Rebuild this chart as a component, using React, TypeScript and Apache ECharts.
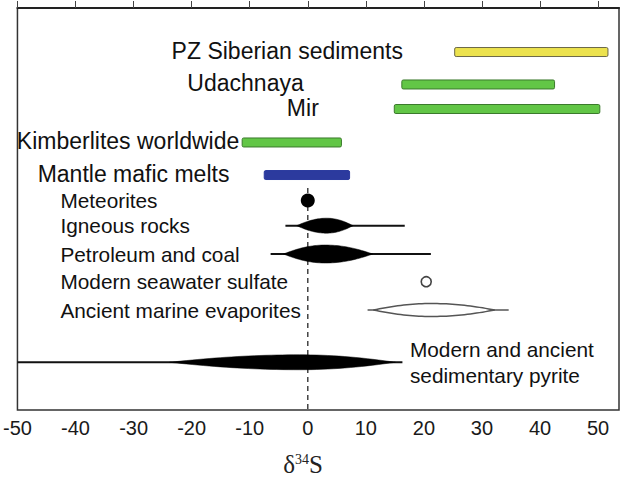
import React, { useEffect, useRef } from "react";
import * as echarts from "echarts";

// ---- Data ----
// Top: ranges shown as coloured bars
const barNames = ["PZ Siberian sediments", "Udachnaya", "Mir", "Kimberlites worldwide", "Mantle mafic melts"];
const barLow = [25.3, 16.2, 14.9, -11.3, -7.5];
const barHigh = [51.7, 42.5, 50.3, 5.8, 7.2];
const barRows = [4.38, 7.61, 10.05, 13.38, 16.62];
const barLabelEnds = [16.4, -0.7, 1.9, -11.8, -13.5];

// Bottom: distributions
const distNames = [
  "Meteorites",
  "Igneous rocks",
  "Petroleum and coal",
  "Modern seawater sulfate",
  "Ancient marine evaporites",
  "Modern and ancient\nsedimentary pyrite",
];
const distRows = [19.15, 21.66, 24.48, 27.23, 30.05, 35.25];
const distLabelX = [-42.6, -42.6, -42.6, -42.6, -42.6, 17.6];
const rangeLow: (number | null)[] = [null, -3.85, -6.4, null, 10.3, -50];
const rangeHigh: (number | null)[] = [null, 16.7, 21.2, null, 34.6, 16.3];
const modeLow: (number | null)[] = [null, -1.9, -4.2, null, 11.3, -23.8];
const modePeak = [0, 3.25, 3.0, 20.4, 21.3, -1.5];
const modeHigh: (number | null)[] = [null, 7.8, 11.2, null, 32.2, 15.1];

const xTickLabels = [-50, -40, -30, -20, -10, 0, 10, 20, 30, 40, 50];
const zeroLineFrom = 17.9;

// ---- Styles ----
const SANS = '"Liberation Sans", Arial, Helvetica, sans-serif';
const SERIF = '"Liberation Serif", "DejaVu Serif", "Times New Roman", serif';
const barFill = ["#ece24e", "#62c646", "#62c646", "#62c646", "#2c3a9e"];
const barStroke = ["#6b6848", "#3b7a2c", "#3b7a2c", "#3b7a2c", "#2c3a9e"];
const distKind = ["dot", "solid", "solid", "ring", "open", "solid"];
const spindleHalf = [0, 7.5, 9, 0, 6.5, 7.5];

export default function App() {
  const ref = useRef<HTMLDivElement>(null);
  useEffect(() => {
    if (!ref.current) return;
    const chart = echarts.init(ref.current, null, { renderer: "svg" });

    const barData = barNames.map((n, i) => ({ name: n, value: [barLow[i], barHigh[i], barRows[i], barLabelEnds[i]] }));
    const distData = distNames.map((n, i) => ({
      name: n,
      value: [
        rangeLow[i] ?? modePeak[i],
        rangeHigh[i] ?? modePeak[i],
        modeLow[i] ?? modePeak[i],
        modePeak[i],
        modeHigh[i] ?? modePeak[i],
        distRows[i],
        distLabelX[i],
      ],
    }));

    const option: any = {
      animation: false,
      grid: { left: 14, right: 3, top: 8, bottom: 67, show: true, borderColor: "#333", borderWidth: 1.5, backgroundColor: "#fff" },
      xAxis: {
        type: "value",
        min: -50,
        max: 53.6,
        interval: 10,
        axisLine: { lineStyle: { color: "#222", width: 2 } },
        axisTick: { inside: true, length: 7, lineStyle: { color: "#444", width: 1 } },
        axisLabel: {
          fontSize: 20,
          fontFamily: SANS,
          color: "#1a1a1a",
          margin: 8,
          showMaxLabel: false,
          formatter: (v: number) => (xTickLabels.indexOf(Math.round(v * 100) / 100) >= 0 ? String(v) : ""),
        },
        splitLine: { show: false },
      },
      yAxis: { type: "value", min: 0, max: 40, inverse: true, show: false },
      graphic: [
        {
          type: "text",
          x: 303,
          y: 477,
          style: {
            text: "{a|δ}{b|34}{a|S}",
            align: "center",
            verticalAlign: "bottom",
            rich: {
              a: { fontSize: 25, fontFamily: SERIF, fill: "#222", verticalAlign: "bottom" },
              b: { fontSize: 14, fontFamily: SERIF, fill: "#222", verticalAlign: "top" },
            },
          },
        },
      ],
      series: [
        {
          type: "custom",
          name: "zero",
          data: [[0, zeroLineFrom, 40]],
          encode: { x: 0, y: [1, 2] },
          renderItem: (_p: any, api: any) => {
            const a = api.coord([api.value(0), api.value(1)]);
            const b = api.coord([api.value(0), api.value(2)]);
            return {
              type: "line",
              shape: { x1: a[0], y1: a[1], x2: b[0], y2: b[1] },
              style: { stroke: "#444", lineWidth: 1.5, lineDash: [5, 4] },
            };
          },
        },
        {
          type: "custom",
          name: "bars",
          data: barData,
          encode: { x: [0, 1, 3], y: 2 },
          renderItem: (params: any, api: any) => {
            const i = params.dataIndex;
            const y = api.value(2);
            const a = api.coord([api.value(0), y]);
            const b = api.coord([api.value(1), y]);
            const l = api.coord([api.value(3), y]);
            return {
              type: "group",
              children: [
                {
                  type: "rect",
                  shape: { x: a[0], y: a[1] - 4.5, width: b[0] - a[0], height: 9, r: 1.5 },
                  style: { fill: barFill[i], stroke: barStroke[i], lineWidth: 1 },
                },
                {
                  type: "text",
                  x: l[0],
                  y: l[1] - 1,
                  style: {
                    text: barNames[i],
                    fill: "#111",
                    fontSize: 23,
                    fontFamily: SANS,
                    align: "right",
                    verticalAlign: "middle",
                  },
                },
              ],
            };
          },
        },
        {
          type: "custom",
          name: "dist",
          data: distData,
          encode: { x: [0, 1, 6], y: 5 },
          renderItem: (params: any, api: any) => {
            const i = params.dataIndex;
            const kind = distKind[i];
            const y = api.value(5);
            const children: any[] = [];
            const pk = api.coord([api.value(3), y]);
            if (kind === "dot") {
              children.push({ type: "circle", shape: { cx: pk[0], cy: pk[1], r: 7 }, style: { fill: "#000" } });
            } else if (kind === "ring") {
              children.push({ type: "circle", shape: { cx: pk[0], cy: pk[1], r: 5 }, style: { fill: "#fff", stroke: "#444", lineWidth: 1.6 } });
            } else {
              const la = api.coord([api.value(0), y]);
              const lb = api.coord([api.value(1), y]);
              const open = kind === "open";
              children.push({
                type: "line",
                shape: { x1: la[0], y1: la[1], x2: lb[0], y2: lb[1] },
                style: { stroke: open ? "#555" : "#111", lineWidth: open ? 1.5 : 2 },
              });
              const x0 = api.coord([api.value(2), y])[0];
              const x1 = api.coord([api.value(4), y])[0];
              const xp = pk[0];
              const yc = pk[1];
              const H = spindleHalf[i];
              const N = 40;
              const hAt = (x: number) => {
                const t = x < xp ? (xp - x) / Math.max(1e-6, xp - x0) : (x - xp) / Math.max(1e-6, x1 - xp);
                return H * Math.pow(Math.max(0, 1 - t * t), 1.05);
              };
              const xs: number[] = [];
              for (let k = 0; k <= N; k++) xs.push(x0 + ((x1 - x0) * k) / N);
              xs.push(xp);
              xs.sort((p, q) => p - q);
              const pts: number[][] = [];
              xs.forEach((x) => pts.push([x, yc - hAt(x)]));
              for (let k = xs.length - 1; k >= 0; k--) pts.push([xs[k], yc + hAt(xs[k])]);
              children.push({
                type: "polygon",
                shape: { points: pts },
                style: open ? { fill: "#fff", stroke: "#555", lineWidth: 1.5 } : { fill: "#000", stroke: "#000", lineWidth: 0.5 },
              });
            }
            const lp = api.coord([api.value(6), y]);
            children.push({
              type: "text",
              x: lp[0],
              y: lp[1],
              style: {
                text: distNames[i],
                fill: "#111",
                fontSize: 20.8,
                fontFamily: SANS,
                lineHeight: 26,
                align: "left",
                verticalAlign: "middle",
              },
            });
            return { type: "group", children };
          },
        },
      ],
    };
    chart.setOption(option);
    return () => chart.dispose();
  }, []);
  return <div ref={ref} style={{ position: "fixed", left: 0, top: 0, width: 622, height: 477, background: "#fff" }} />;
}
